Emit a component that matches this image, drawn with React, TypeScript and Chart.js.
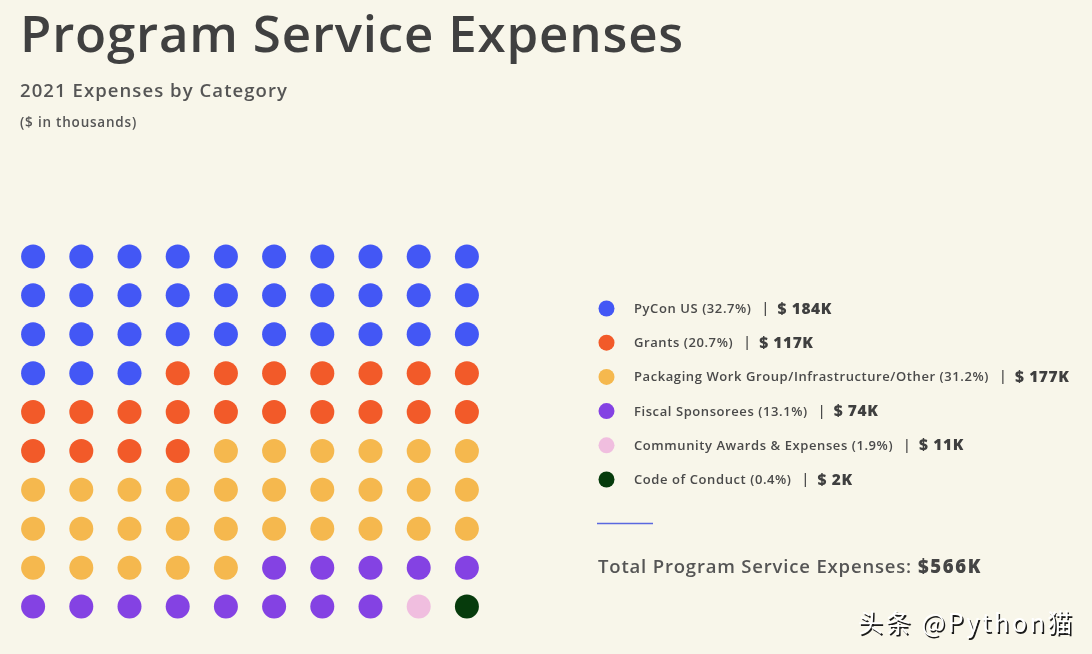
import React, { useEffect, useRef } from "react";
import { Chart, registerables } from "chart.js";

Chart.register(...registerables);

const titleText = "Program Service Expenses";
const subtitleText = "2021 Expenses by Category";
const unitText = "($ in thousands)";
const categories = [
  "PyCon US",
  "Grants",
  "Packaging Work Group/Infrastructure/Other",
  "Fiscal Sponsorees",
  "Community Awards & Expenses",
  "Code of Conduct",
];
const percents = ["32.7", "20.7", "31.2", "13.1", "1.9", "0.4"];
const amounts = [184, 117, 177, 74, 11, 2];
const dotCounts = [33, 21, 31, 13, 1, 1];
const colors = ["#4357F5", "#F25A29", "#F5B84E", "#8442E3", "#F0BEDF", "#063B0C"];
const totalLabel = "Total Program Service Expenses:";
const totalValue = "$566K";
const watermark = "头条 @Python猫";

const BG = "#F8F6EA";
const FONT = "'Open Sans', Lato, sans-serif";

function buildDatasets() {
  let idx = 0;
  return categories.map((c, k) => {
    const pts: { x: number; y: number }[] = [];
    for (let i = 0; i < dotCounts[k]; i++) {
      pts.push({ x: idx % 10, y: Math.floor(idx / 10) });
      idx++;
    }
    return {
      label: c,
      data: pts,
      backgroundColor: colors[k],
      borderWidth: 0,
      pointRadius: 12,
      pointHoverRadius: 12,
    };
  });
}

function fitText(ctx: CanvasRenderingContext2D, text: string, x: number, y: number, target: number) {
  ctx.letterSpacing = "0px";
  const w = ctx.measureText(text).width;
  const ls = (target - w) / text.length;
  ctx.letterSpacing = `${ls}px`;
  ctx.fillText(text, x, y);
  ctx.letterSpacing = "0px";
}

const textPlugin = {
  id: "texts",
  beforeDraw(chart: any) {
    const ctx = chart.ctx as CanvasRenderingContext2D;
    ctx.save();
    ctx.fillStyle = BG;
    ctx.fillRect(0, 0, chart.width, chart.height);
    ctx.restore();
  },
  afterDraw(chart: any) {
    const ctx = chart.ctx as CanvasRenderingContext2D;
    ctx.save();
    ctx.textBaseline = "alphabetic";
    ctx.textAlign = "left";

    // Title
    ctx.fillStyle = "#404040";
    ctx.font = `600 51px ${FONT}`;
    fitText(ctx, titleText, 20, 52, 664);

    ctx.fillStyle = "#555555";
    ctx.font = `600 18.5px ${FONT}`;
    fitText(ctx, subtitleText, 20, 97, 268);

    ctx.font = `600 13.5px ${FONT}`;
    fitText(ctx, unitText, 20, 127, 117);

    // Legend
    const labelFont = `600 13px ${FONT}`;
    ctx.font = labelFont;
    ctx.letterSpacing = "0px";
    const longest = `${categories[2]} (${percents[2]}%)`;
    const lw = ctx.measureText(longest).width;
    const ls = (355 - lw) / longest.length;
    const rowY0 = 313;
    const rowStep = 34.2;
    categories.forEach((c, k) => {
      const y = rowY0 + k * rowStep;
      ctx.beginPath();
      ctx.fillStyle = colors[k];
      ctx.arc(606.5, y - 4.5, 8, 0, Math.PI * 2);
      ctx.fill();

      ctx.fillStyle = "#4a4a4a";
      ctx.font = labelFont;
      ctx.letterSpacing = `${ls}px`;
      const label = `${c} (${percents[k]}%)`;
      ctx.fillText(label, 634, y);
      const w = ctx.measureText(label).width;
      ctx.letterSpacing = "0px";
      ctx.font = `600 14px ${FONT}`;
      ctx.fillText("|", 634 + w + 10, y);
      ctx.fillStyle = "#3f3f3f";
      ctx.font = `800 15.5px ${FONT}`;
      ctx.letterSpacing = "0.6px";
      ctx.fillText(`$ ${amounts[k]}K`, 634 + w + 26, y + 0.5);
      ctx.letterSpacing = "0px";
    });

    // Separator line
    ctx.strokeStyle = "#5A68E0";
    ctx.lineWidth = 1.5;
    ctx.beginPath();
    ctx.moveTo(597, 523.5);
    ctx.lineTo(653, 523.5);
    ctx.stroke();

    // Total
    ctx.fillStyle = "#555555";
    ctx.font = `600 18.5px ${FONT}`;
    fitText(ctx, totalLabel, 598, 573, 314);
    ctx.fillStyle = "#454545";
    ctx.font = `800 18.5px ${FONT}`;
    fitText(ctx, totalValue, 918, 573, 64);

    // Watermark
    ctx.font = `400 25px 'Noto Sans CJK SC', sans-serif`;
    ctx.fillStyle = "#1a1a1a";
    ctx.letterSpacing = "0px";
    const mw = ctx.measureText(watermark).width;
    const mls = (217 - mw) / watermark.length;
    ctx.letterSpacing = `${mls}px`;
    ctx.fillText(watermark, 859.5, 633.5);
    ctx.fillStyle = "#ffffff";
    ctx.fillText(watermark, 858, 632);

    ctx.restore();
  },
};

export default function App() {
  const ref = useRef<HTMLCanvasElement | null>(null);
  useEffect(() => {
    if (!ref.current) return;
    const chart = new Chart(ref.current, {
      type: "scatter",
      data: { datasets: buildDatasets() as any },
      options: {
        responsive: false,
        animation: false,
        events: [],
        layout: { autoPadding: false, padding: { left: 9, top: 237, right: 601, bottom: 28 } },
        scales: {
          x: { type: "linear", min: -0.5, max: 9.5, display: false },
          y: { type: "linear", min: -0.5, max: 9.5, reverse: true, display: false },
        },
        plugins: { legend: { display: false }, tooltip: { enabled: false } },
      },
      plugins: [textPlugin],
    });
    return () => chart.destroy();
  }, []);
  return (
    <div style={{ position: "fixed", left: 0, top: 0, width: 1092, height: 654, background: BG }}>
      <canvas ref={ref} width={1092} height={654} style={{ display: "block" }} />
    </div>
  );
}
